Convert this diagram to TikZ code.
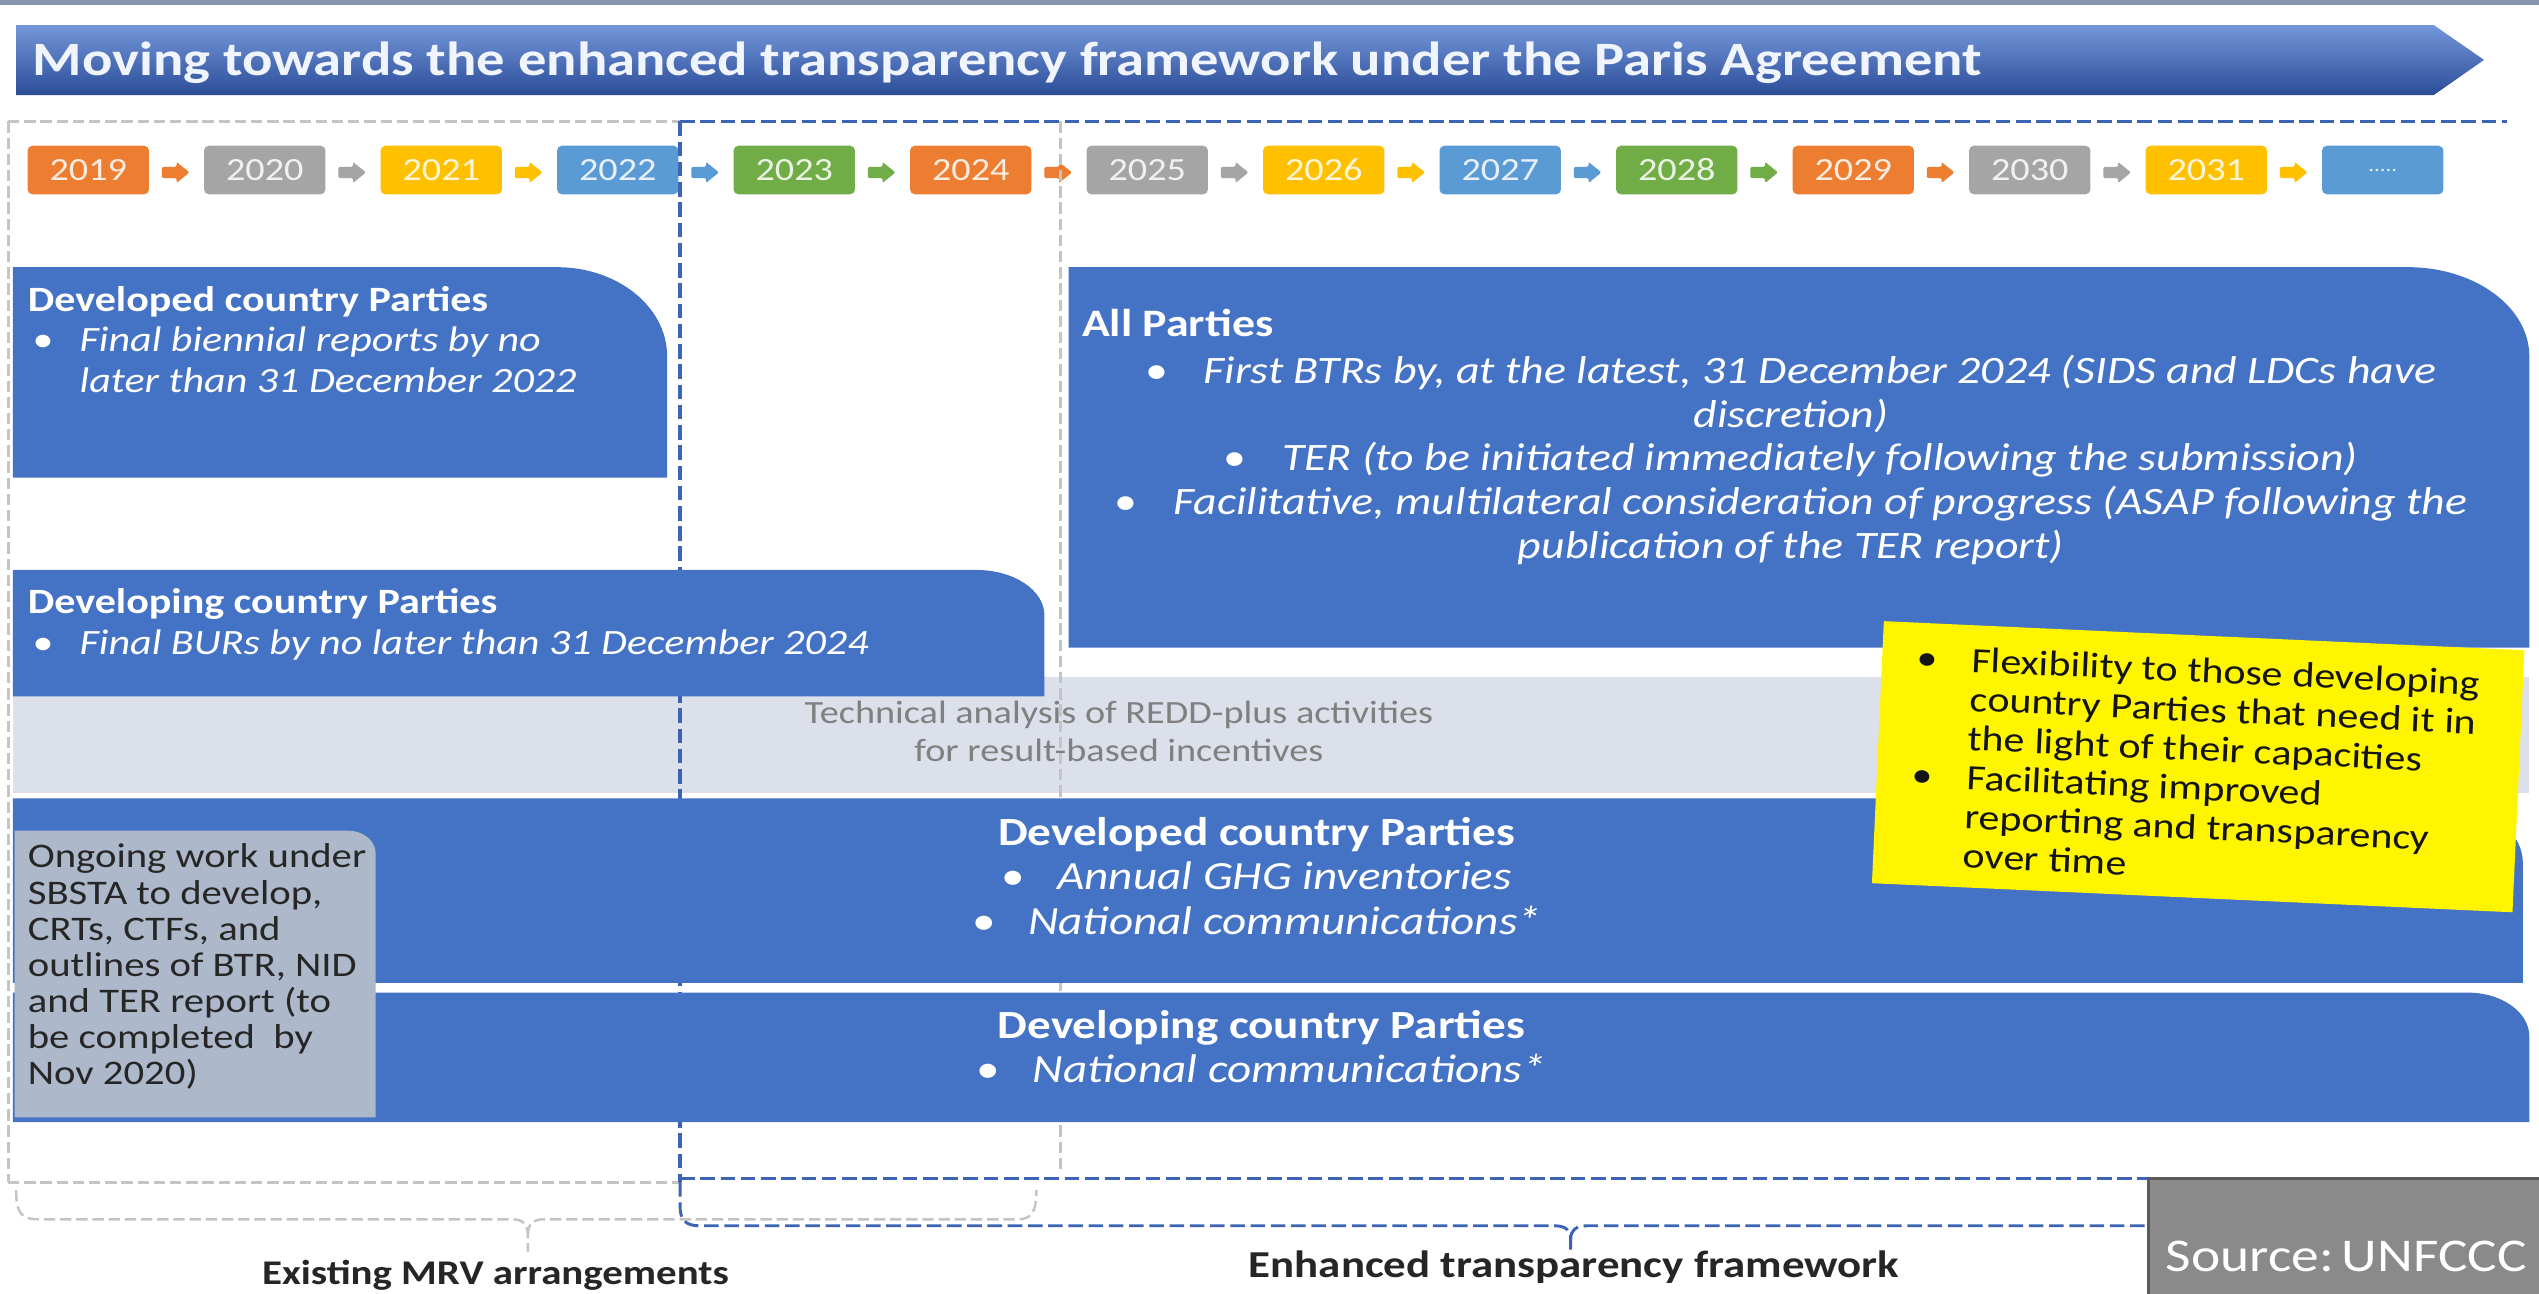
\documentclass[tikz,border=0pt]{standalone}
\usepackage{fontspec}
\setmainfont{Carlito}[FakeStretch=1.18]
\definecolor{obl}{HTML}{4472C4}
\definecolor{yorange}{HTML}{ED7D31}
\definecolor{ygrey}{HTML}{A5A5A5}
\definecolor{ygold}{HTML}{FFC000}
\definecolor{yblue}{HTML}{5B9BD5}
\definecolor{ygreen}{HTML}{70AD47}
\definecolor{bandc}{HTML}{DCE0EA}
\definecolor{ongoc}{HTML}{ADB9CA}
\definecolor{notey}{HTML}{FFF500}
\definecolor{dashblue}{HTML}{3B64B5}
\definecolor{dashgrey}{HTML}{C4C4C4}
\definecolor{ttop}{HTML}{7397DA}
\definecolor{tmid}{HTML}{4470C2}
\definecolor{tbot}{HTML}{2C4C98}
\definecolor{srcgrey}{HTML}{8A8A8A}
\definecolor{darktxt}{HTML}{262626}
\begin{document}
\begin{tikzpicture}[x=1pt,y=-1pt,
  yearbox/.style={rounded corners=3pt, minimum width=75pt, minimum height=30pt, inner sep=0pt, font=\fontsize{20}{20}\selectfont},
  greyd/.style={draw=dashgrey, line width=1.8pt, dash pattern=on 7pt off 3pt},
  blued/.style={draw=dashblue, line width=2pt, dash pattern=on 9pt off 3.5pt},
  wtxt/.style={text=white, inner sep=0pt},
  upbox/.style={font=\fontsize{22}{25}\selectfont},
  apbox/.style={font=\fontsize{24}{27}\selectfont},
  lowbox/.style={font=\fontsize{24.7}{27.5}\selectfont}
]
\useasboundingbox (0,0) rectangle (1568,799);
\fill[white] (0,0) rectangle (1568,799);
% top rule
\draw[line width=3pt, color={rgb,255:red,134;green,150;blue,174}] (0,1.5) -- (1568,1.5);
% title banner
\shade[top color=ttop, middle color=tmid, bottom color=tbot] (10,15.5) -- (1503,15.5) -- (1534,37) -- (1503,58.7) -- (10,58.7) -- cycle;
\node[wtxt, anchor=base west, font=\fontsize{29.6}{29.6}\selectfont\bfseries, text={rgb,255:red,240;green,244;blue,252}] (title) at (20,46.5) {Moving towards the enhanced transparency framework under the Paris Agreement};
% years
\foreach \i/\yr/\col in {0/2019/yorange,1/2020/ygrey,2/2021/ygold,3/2022/yblue,4/2023/ygreen,5/2024/yorange,6/2025/ygrey,7/2026/ygold,8/2027/yblue,9/2028/ygreen,10/2029/yorange,11/2030/ygrey,12/2031/ygold}{
  \node[yearbox, fill=\col, text=white!85!\col] (y\yr) at (54.5+109*\i,105) {\yr};
  \pgfmathsetmacro\cx{108.5+109*\i}
  \fill[\col, rounded corners=0.8pt] (\cx-8.5,103) -- (\cx+0.5,103) -- (\cx+0.5,100) -- (\cx+8.5,106.5) -- (\cx+0.5,113) -- (\cx+0.5,110) -- (\cx-8.5,110) -- cycle;
}
\node[yearbox, fill=yblue, text=white!85!yblue, font=\fontsize{12}{12}\selectfont] (ydots) at (1471.5,105) {.....};
% light band
\fill[bandc] (8,418) rectangle (1562,490);
\node[inner sep=0pt, anchor=north, align=center, text={rgb,255:red,128;green,128;blue,128}, font=\fontsize{20}{23}\selectfont] (redd) at (691,433) {Technical analysis of REDD-plus activities\\for result-based incentives};
% dashed frame
\draw[greyd] (5,75) -- (420,75);
\draw[blued] (420,75) -- (1548,75);
\draw[greyd] (5,75) -- (5,730);
\draw[greyd] (5,730) -- (420,730);
\draw[blued] (420,728) -- (1548,728);
\draw[blued] (420,75) -- (420,730);
\draw[greyd] (655,75) -- (655,722);
% braces
\draw[greyd, line width=1.5pt] (10,735) .. controls (10,749) and (13,753) .. (24,753) -- (316,753) .. controls (323,753) and (326,756) .. (326,763) -- (326,773);
\draw[greyd, line width=1.5pt] (326,763) .. controls (326,756) and (329,753) .. (336,753) -- (628,753) .. controls (637,753) and (640,749) .. (640,735);
\draw[blued, line width=1.8pt] (420,730) -- (420,745) .. controls (420,753) and (423,757) .. (432,757) -- (960,757) .. controls (967,757) and (970,760) .. (970,765) -- (970,773);
\draw[blued, line width=1.8pt] (970,765) .. controls (970,760) and (973,757) .. (980,757) -- (1400,757);
% upper boxes
\fill[obl] (8,165) -- (344,165) arc[start angle=-90, end angle=0, x radius=68, y radius=55] -- (412,295) -- (8,295) -- cycle;
\fill[obl] (8,352) -- (603,352) arc[start angle=-90, end angle=0, x radius=42, y radius=28] -- (645,430) -- (8,430) -- cycle;
\fill[obl] (660,165) -- (1487,165) arc[start angle=-90, end angle=0, x radius=75, y radius=55] -- (1562,400) -- (660,400) -- cycle;
% lower boxes
\fill[obl] (8,493) -- (1498,493) arc[start angle=-90, end angle=0, x radius=60, y radius=40] -- (1558,607) -- (8,607) -- cycle;
\fill[obl] (8,613) -- (1524,613) arc[start angle=-90, end angle=0, x radius=38, y radius=27] -- (1562,693) -- (8,693) -- cycle;
\fill[ongoc] (9,513) -- (215,513) arc[start angle=-90, end angle=0, x radius=17, y radius=14] -- (232,690) -- (9,690) -- cycle;
% texts upper
\node[wtxt, upbox, anchor=north west, align=left] (dev1) at (17,176.5) {\textbf{Developed country Parties}\\
\hspace*{3pt}\makebox[29pt][l]{\textbullet}\textit{Final biennial reports by no}\\
\hspace*{32pt}\textit{later than 31 December 2022}};
\node[wtxt, upbox, anchor=north west, align=left] (dvg1) at (17,363.5) {\textbf{Developing country Parties}\\
\hspace*{3pt}\makebox[29pt][l]{\textbullet}\textit{Final BURs by no later than 31 December 2024}};
\node[wtxt, apbox, anchor=base west] (aph) at (668,208) {\textbf{All Parties}};
\node[wtxt, apbox, anchor=north, align=center] (apt) at (1106,219) {\textbullet\hspace{22pt}\textit{First BTRs by, at the latest, 31 December 2024 (SIDS and LDCs have}\\
\textit{discretion)}\\
\textbullet\hspace{22pt}\textit{TER (to be initiated immediately following the submission)}\\
\textbullet\hspace{22pt}\textit{Facilitative, multilateral consideration of progress (ASAP following the}\\
\textit{publication of the TER report)}};
% texts lower
\node[wtxt, lowbox, anchor=north, align=center] (dev2) at (776,504.5) {\textbf{Developed country Parties}\\
\textbullet\hspace{20pt}\textit{Annual GHG inventories}\\
\textbullet\hspace{20pt}\textit{National communications*}};
\node[wtxt, lowbox, anchor=north, align=center] (dvg2) at (779,623.5) {\textbf{Developing country Parties}\\
\textbullet\hspace{20pt}\textit{National communications*}};
\node[inner sep=0pt, anchor=north west, align=left, text=darktxt, font=\fontsize{21.3}{22.3}\selectfont] (ongo) at (17,521) {Ongoing work under\\SBSTA to develop,\\CRTs, CTFs, and\\outlines of BTR, NID\\and TER report (to\\be completed~ by\\Nov 2020)};
% yellow note
\node[fill=notey, rotate=-2.6, minimum width=396pt, minimum height=162pt, inner sep=0pt] (note) at (1357.5,473.5) {};
\node[rotate=-2.6, anchor=north west, inner sep=0pt, align=left, text={rgb,255:red,20;green,20;blue,20}, font=\fontsize{22}{24.2}\selectfont] (notetxt) at (1184,398) {\makebox[34pt][l]{\textbullet}Flexibility to those developing\\
\hspace*{34pt}country Parties that need it in\\
\hspace*{34pt}the light of their capacities\\
\makebox[34pt][l]{\textbullet}Facilitating improved\\
\hspace*{34pt}reporting and transparency\\
\hspace*{34pt}over time};
% bottom labels
\node[inner sep=0pt, anchor=base, font=\fontsize{21.4}{21.4}\selectfont\bfseries, text=darktxt] (mrv) at (306,793) {Existing MRV arrangements};
\node[inner sep=0pt, anchor=base, font=\fontsize{23.5}{23.5}\selectfont\bfseries, text=darktxt] (etf) at (972,789) {Enhanced transparency framework};
% source
\fill[srcgrey] (1326,727) rectangle (1568,799);
\draw[line width=2pt, color={rgb,255:red,90;green,90;blue,90}] (1327,799) -- (1327,728) -- (1568,728);
\node[wtxt, anchor=base, font=\fontsize{29}{29}\selectfont] (src) at (1449,785) {Source:\,UNFCCC};
\end{tikzpicture}
\end{document}
